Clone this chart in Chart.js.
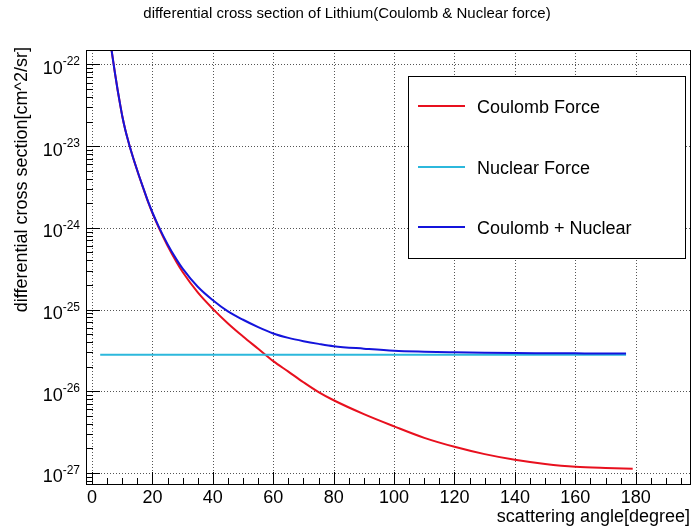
<!DOCTYPE html>
<html>
<head>
<meta charset="utf-8">
<title>differential cross section of Lithium</title>
<script src="https://cdn.jsdelivr.net/npm/chart.js@4.4.1/dist/chart.umd.min.js"></script>
<style>
  body { margin: 0; background: #fff; }
  canvas { display: block; }
</style>
</head>
<body>
<canvas id="xsec" width="692" height="530"></canvas>
<script>
// scattering angle [degree] and cross section [cm^2/sr]
var angleCoulomb = [6.4, 7.6, 8.5, 9.3, 10, 11, 12, 13, 14, 15.5, 17, 18.7, 20, 22, 25, 28, 30, 35, 40, 45, 50, 55,
  60, 65, 70, 75, 80, 90, 100, 110, 120, 130, 140, 150, 160, 170, 179];
var sigmaCoulomb = [1.55e-22, 7.76e-23, 4.79e-23, 3.24e-23, 2.34e-23, 1.59e-23, 1.15e-23, 8.51e-24, 6.46e-24,
  4.37e-24, 3.02e-24, 2.00e-24, 1.51e-24, 1.02e-24, 6.03e-25, 3.80e-25, 2.88e-25, 1.62e-25, 1.02e-25,
  6.76e-26, 4.68e-26, 3.31e-26, 2.34e-26, 1.74e-26, 1.29e-26, 9.77e-27, 7.76e-27, 5.25e-27, 3.72e-27,
  2.69e-27, 2.09e-27, 1.70e-27, 1.45e-27, 1.29e-27, 1.19e-27, 1.15e-27, 1.13e-27];

var angleNuclear = [2.7, 176.8];
var sigmaNuclear = [2.8e-26, 2.8e-26];

var angleTotal = [6.4, 7.6, 8.5, 9.3, 10, 11, 12, 13, 14, 15.5, 17, 18.7, 20, 22, 25, 28, 30, 35, 40, 45, 50, 55,
  60, 65, 70, 75, 80, 90, 100, 110, 120, 130, 140, 150, 160, 170, 176.8];
var sigmaTotal = [1.55e-22, 7.76e-23, 4.79e-23, 3.24e-23, 2.34e-23, 1.59e-23, 1.15e-23, 8.54e-24, 6.49e-24,
  4.40e-24, 3.05e-24, 2.03e-24, 1.54e-24, 1.05e-24, 6.31e-25, 4.08e-25, 3.16e-25, 1.90e-25, 1.30e-25,
  9.5e-26, 7.5e-26, 6.1e-26, 5.1e-26, 4.5e-26, 4.1e-26, 3.8e-26, 3.56e-26, 3.32e-26, 3.13e-26,
  3.05e-26, 3.0e-26, 2.96e-26, 2.93e-26, 2.92e-26, 2.91e-26, 2.90e-26, 2.90e-26];

var xTicks = [0, 20, 40, 60, 80, 100, 120, 140, 160, 180];
var yDecades = [-27, -26, -25, -24, -23, -22];

var FONT = '"Liberation Sans", Arial, Helvetica, sans-serif';

function toPoints(xs, ys) {
  return xs.map(function (x, i) { return { x: x, y: ys[i] }; });
}

// ROOT-like frame: dotted grid, inward ticks, 10^n labels, titles and boxed legend
var rootFrame = {
  id: 'rootFrame',
  beforeDatasetsDraw: function (chart) {
    var ctx = chart.ctx, a = chart.chartArea;
    var xs = chart.scales.x, ys = chart.scales.y;
    ctx.save();
    ctx.strokeStyle = '#555';
    ctx.lineWidth = 1;
    ctx.setLineDash([1, 2]);
    xTicks.forEach(function (v) {
      var px = Math.round(xs.getPixelForValue(v)) + 0.5;
      ctx.beginPath(); ctx.moveTo(px, a.top); ctx.lineTo(px, a.bottom); ctx.stroke();
    });
    yDecades.forEach(function (e) {
      var py = Math.round(ys.getPixelForValue(Math.pow(10, e))) + 0.5;
      ctx.beginPath(); ctx.moveTo(a.left, py); ctx.lineTo(a.right, py); ctx.stroke();
    });
    ctx.restore();
  },
  afterDatasetsDraw: function (chart) {
    var ctx = chart.ctx, a = chart.chartArea;
    var xs = chart.scales.x, ys = chart.scales.y;
    ctx.save();
    ctx.strokeStyle = '#000';
    ctx.lineWidth = 1;
    ctx.strokeRect(a.left + 0.5, a.top + 0.5, a.right - a.left - 1, a.bottom - a.top);

    // x ticks: major every 20, minor every 5
    ctx.beginPath();
    for (var v = 0; v <= xs.max; v += 5) {
      var px = Math.round(xs.getPixelForValue(v)) + 0.5;
      var len = (v % 20 === 0) ? 12 : 6;
      ctx.moveTo(px, a.bottom); ctx.lineTo(px, a.bottom - len);
    }
    // y ticks: decades and 2..9 in between
    for (var e = -28; e <= -22; e++) {
      for (var k = 1; k <= 9; k++) {
        var val = k * Math.pow(10, e);
        if (val < ys.min || val > ys.max) continue;
        var py = Math.round(ys.getPixelForValue(val)) + 0.5;
        ctx.moveTo(a.left, py); ctx.lineTo(a.left + (k === 1 ? 14 : 7), py);
      }
    }
    ctx.stroke();

    ctx.fillStyle = '#000';
    ctx.font = '18px ' + FONT;
    ctx.textAlign = 'center';
    ctx.textBaseline = 'alphabetic';
    xTicks.forEach(function (t) {
      ctx.fillText(String(t), xs.getPixelForValue(t), 503);
    });

    yDecades.forEach(function (e) {
      var py = ys.getPixelForValue(Math.pow(10, e));
      var exp = String(e);
      ctx.font = '12px ' + FONT;
      var ew = ctx.measureText(exp).width;
      var ex = a.left - 6 - ew;
      ctx.textAlign = 'left';
      ctx.fillText(exp, ex, py + 1);
      ctx.font = '18px ' + FONT;
      ctx.textAlign = 'right';
      ctx.fillText('10', ex, py + 9.5);
    });

    // axis titles, right aligned as in ROOT
    ctx.font = '18px ' + FONT;
    ctx.textAlign = 'right';
    ctx.fillText('scattering angle[degree]', 690, 522);
    ctx.save();
    ctx.translate(27, 47);
    ctx.rotate(-Math.PI / 2);
    ctx.fillText('differential cross section[cm^2/sr]', 0, 0);
    ctx.restore();

    ctx.font = '15px ' + FONT;
    ctx.textAlign = 'center';
    ctx.fillText('differential cross section of Lithium(Coulomb & Nuclear force)', 347, 18);
    ctx.restore();
  },
  afterDraw: function (chart) {
    var ctx = chart.ctx;
    var box = { x: 408, y: 76, w: 277, h: 182 };
    var rows = [106, 167, 227];
    ctx.save();
    ctx.fillStyle = '#fff';
    ctx.fillRect(box.x, box.y, box.w, box.h);
    ctx.strokeStyle = '#000';
    ctx.lineWidth = 1;
    ctx.strokeRect(box.x + 0.5, box.y + 0.5, box.w, box.h);
    ctx.font = '18px ' + FONT;
    ctx.textAlign = 'left';
    ctx.textBaseline = 'middle';
    chart.data.datasets.forEach(function (ds, i) {
      var y = rows[i];
      ctx.strokeStyle = ds.borderColor;
      ctx.lineWidth = ds.borderWidth;
      ctx.beginPath(); ctx.moveTo(418, y); ctx.lineTo(465, y); ctx.stroke();
      ctx.fillStyle = '#000';
      ctx.fillText(ds.label, 477, y + 2);
    });
    ctx.restore();
  }
};

var ctx = document.getElementById('xsec').getContext('2d');
var chart = new Chart(ctx, {
  type: 'line',
  data: {
    datasets: [{
      label: 'Coulomb Force',
      data: toPoints(angleCoulomb, sigmaCoulomb),
      borderColor: '#e8101e',
      borderWidth: 2,
      order: 2
    }, {
      label: 'Nuclear Force',
      data: toPoints(angleNuclear, sigmaNuclear),
      borderColor: '#2cb8dc',
      borderWidth: 2,
      order: 1
    }, {
      label: 'Coulomb + Nuclear',
      data: toPoints(angleTotal, sigmaTotal),
      borderColor: '#1414dc',
      borderWidth: 2,
      order: 0
    }]
  },
  options: {
    responsive: false,
    animation: false,
    layout: { padding: { left: 86, top: 50, right: 1, bottom: 46 } },
    elements: {
      point: { radius: 0 },
      line: { cubicInterpolationMode: 'monotone', fill: false }
    },
    scales: {
      x: { type: 'linear', min: -2, max: 198.3, display: false },
      y: { type: 'logarithmic', min: 7.33e-28, max: 1.5e-22, display: false }
    },
    plugins: {
      legend: { display: false },
      title: { display: false },
      tooltip: { enabled: false }
    }
  },
  plugins: [rootFrame]
});
</script>
</body>
</html>
